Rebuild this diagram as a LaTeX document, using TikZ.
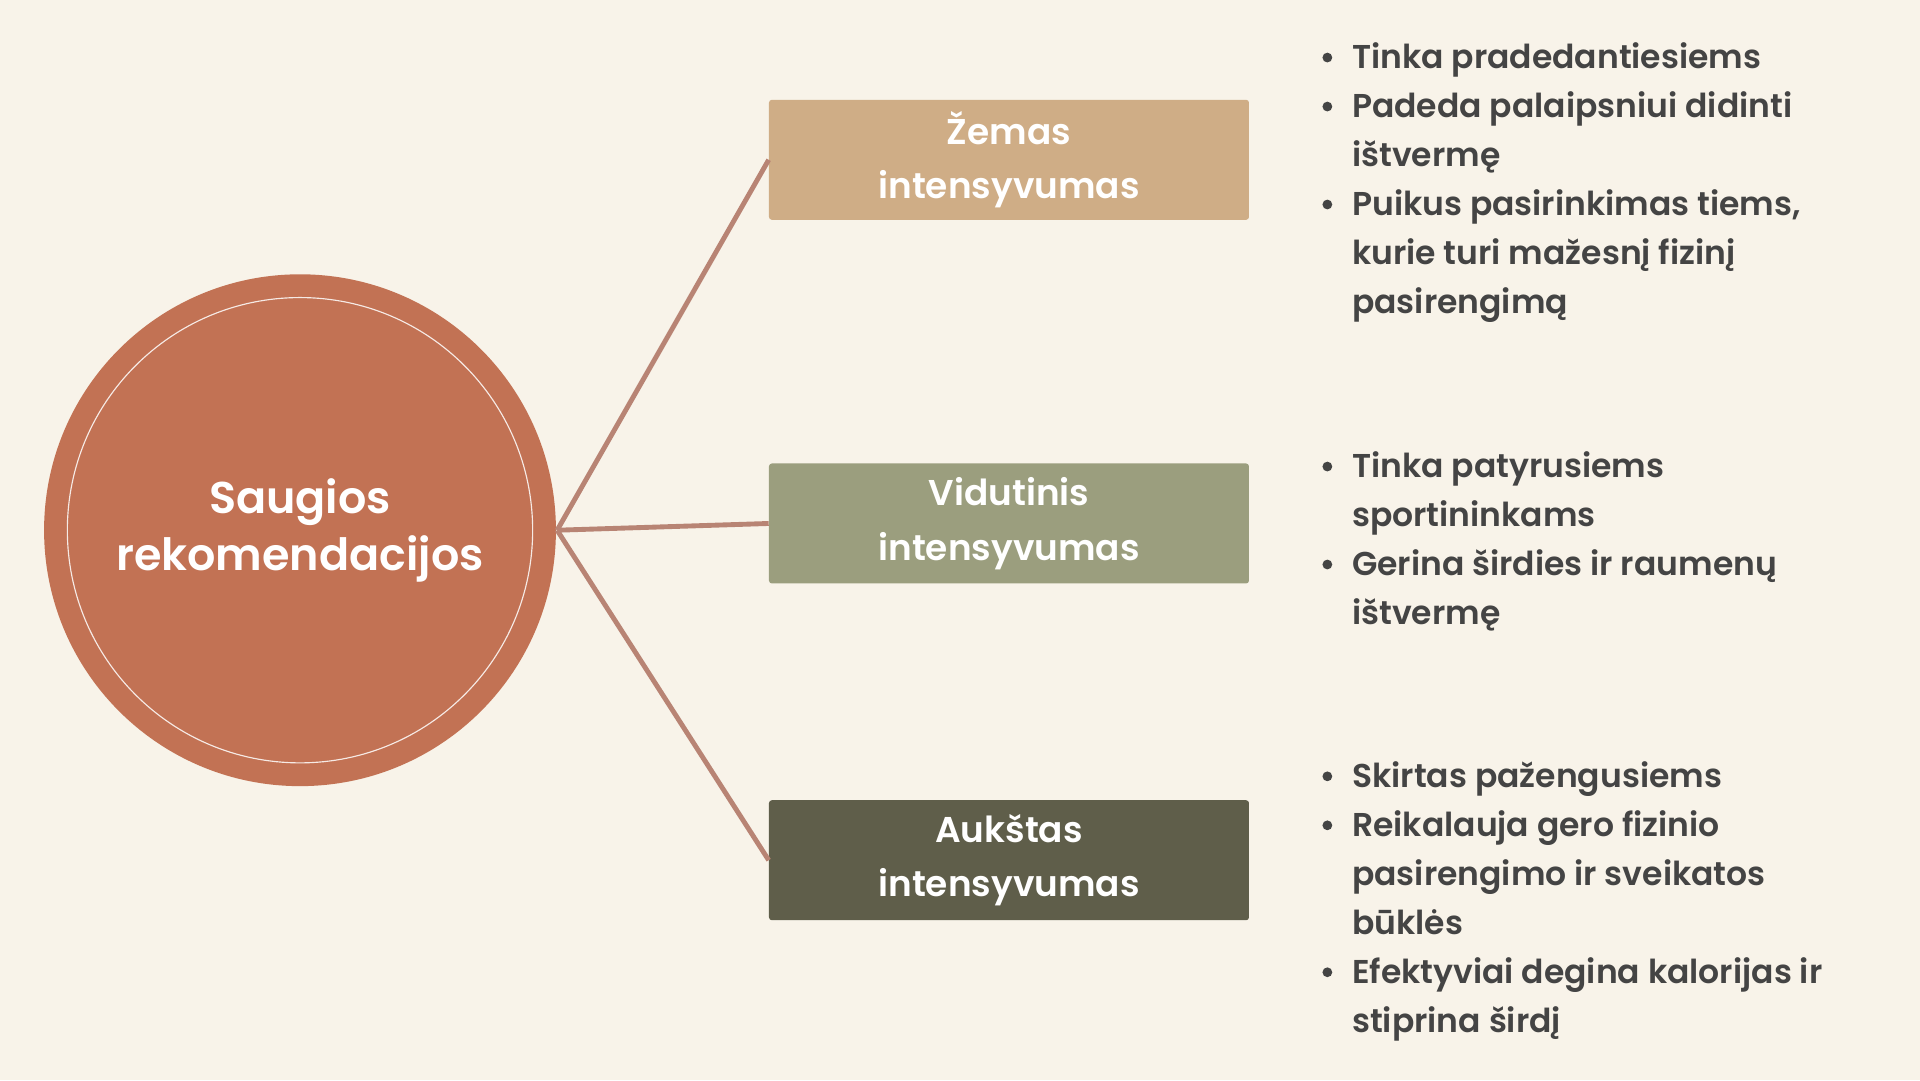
\documentclass[tikz,border=0pt]{standalone}
\usepackage{fontspec}
\setmainfont{Poppins}[BoldFont={* SemiBold}]
\definecolor{bg}{HTML}{F8F3E9}
\definecolor{circ}{HTML}{C27254}
\definecolor{ba}{HTML}{CFAD86}
\definecolor{bb}{HTML}{9B9E7E}
\definecolor{bc}{HTML}{5F5E4A}
\definecolor{ln}{HTML}{B88474}
\definecolor{tx}{HTML}{444444}
\begin{document}
\begin{tikzpicture}[x=0.03cm,y=-0.03cm,
  box/.style={minimum width=392*0.03cm,minimum height=98*0.03cm,rounded corners=2pt,text=white,align=center,font=\fontsize{25}{38}\selectfont\bfseries,inner sep=0pt},
  conn/.style={draw=ln,line width=4*0.85pt},
  itm/.style={anchor=base west,text=tx,font=\fontsize{23}{28}\selectfont\bfseries,inner sep=0pt},
  bul/.style={circle,fill=tx,inner sep=0pt,minimum size=8*0.03cm}]
\fill[bg] (0,0) rectangle (1568,882);
\node[circle,fill=circ,minimum size=418*0.03cm,inner sep=0pt] (c) at (245,433) {};
\draw[white!85!circ,line width=0.8pt] (c.center) circle (190);
\node[text=white,align=center,font=\fontsize{31}{40}\selectfont\bfseries] at (245,433) {Saugios\\rekomendacijos};
\node[box,fill=ba] (b1) at (824,130.5) {Žemas\\intensyvumas};
\node[box,fill=bb] (b2) at (824,427.5) {Vidutinis\\intensyvumas};
\node[box,fill=bc] (b3) at (824,702.5) {Aukštas\\intensyvumas};
\coordinate (o) at (455,433);
\draw[conn] (o) -- (b1.west);
\draw[conn] (o) -- (b2.west);
\draw[conn] (o) -- (b3.west);
% list 1
\node[bul] (p1) at (1084,47) {};
\node[itm] (t1) at (1104,56) {Tinka pradedantiesiems};
\node[bul] (p2) at (1084,87) {};
\node[itm] (t2) at (1104,96) {Padeda palaipsniui didinti};
\node[itm] (t3) at (1104,136) {ištvermę};
\node[bul] (p3) at (1084,167) {};
\node[itm] (t4) at (1104,176) {Puikus pasirinkimas tiems,};
\node[itm] (t5) at (1104,216) {kurie turi mažesnį fizinį};
\node[itm] (t6) at (1104,256) {pasirengimą};
% list 2
\node[bul] (p4) at (1084,381) {};
\node[itm] (t7) at (1104,390) {Tinka patyrusiems};
\node[itm] (t8) at (1104,430) {sportininkams};
\node[bul] (p5) at (1084,461) {};
\node[itm] (t9) at (1104,470) {Gerina širdies ir raumenų};
\node[itm] (t10) at (1104,510) {ištvermę};
% list 3
\node[bul] (p6) at (1084,634) {};
\node[itm] (t11) at (1104,643) {Skirtas pažengusiems};
\node[bul] (p7) at (1084,674) {};
\node[itm] (t12) at (1104,683) {Reikalauja gero fizinio};
\node[itm] (t13) at (1104,723) {pasirengimo ir sveikatos};
\node[itm] (t14) at (1104,763) {būklės};
\node[bul] (p8) at (1084,794) {};
\node[itm] (t15) at (1104,803) {Efektyviai degina kalorijas ir};
\node[itm] (t16) at (1104,843) {stiprina širdį};
\end{tikzpicture}
\end{document}
